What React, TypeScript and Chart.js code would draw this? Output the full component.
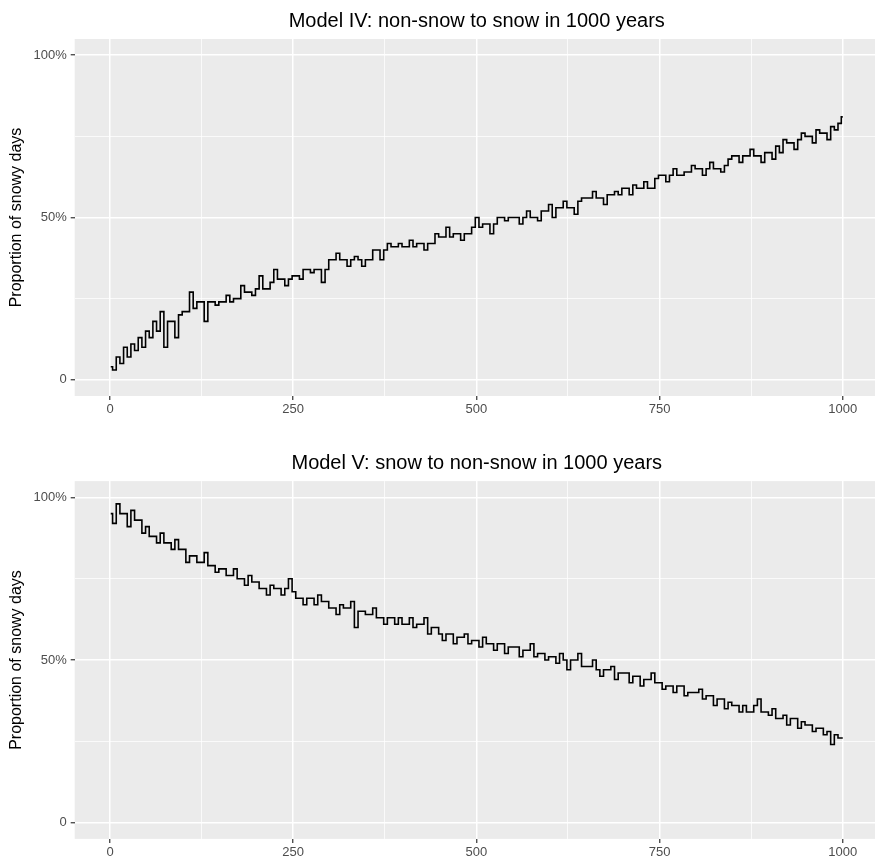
import React, { useEffect, useRef } from "react";
import { Chart, registerables } from "chart.js";

Chart.register(...registerables);

const YEAR_STEP = 5;
const LAST_YEAR = 1000;

const X_TICKS = [0, 125, 250, 375, 500, 625, 750, 875, 1000];
const X_LABELS = ["0", "", "250", "", "500", "", "750", "", "1000"];
const Y_TICKS = [0, 0.25, 0.5, 0.75, 1];
const Y_LABELS = ["0", "", "50%", "", "100%"];

const TITLE_IV = "Model IV: non-snow to snow in 1000 years";
const TITLE_V = "Model V: snow to non-snow in 1000 years";
const Y_TITLE = "Proportion of snowy days";

// Proportion of snowy days, sampled every 5 years (1, 6, 11, ... 996) plus year 1000
const MODEL_IV = [
  0.04, 0.03, 0.07, 0.05, 0.10, 0.07, 0.11, 0.09, 0.13, 0.10,
  0.15, 0.13, 0.18, 0.15, 0.21, 0.10, 0.18, 0.18, 0.13, 0.20,
  0.21, 0.21, 0.27, 0.22, 0.24, 0.24, 0.18, 0.24, 0.24, 0.23,
  0.24, 0.24, 0.26, 0.24, 0.25, 0.25, 0.29, 0.27, 0.27, 0.26,
  0.28, 0.32, 0.28, 0.28, 0.30, 0.34, 0.31, 0.31, 0.29, 0.31,
  0.32, 0.32, 0.31, 0.34, 0.34, 0.33, 0.34, 0.34, 0.30, 0.34,
  0.37, 0.37, 0.39, 0.37, 0.37, 0.35, 0.37, 0.38, 0.37, 0.35,
  0.37, 0.37, 0.40, 0.40, 0.37, 0.40, 0.42, 0.41, 0.41, 0.42,
  0.41, 0.41, 0.43, 0.41, 0.42, 0.42, 0.40, 0.42, 0.42, 0.45,
  0.44, 0.44, 0.47, 0.44, 0.45, 0.45, 0.43, 0.45, 0.45, 0.47,
  0.50, 0.47, 0.48, 0.48, 0.45, 0.48, 0.50, 0.50, 0.49, 0.50,
  0.50, 0.50, 0.48, 0.50, 0.52, 0.50, 0.50, 0.49, 0.52, 0.52,
  0.54, 0.50, 0.53, 0.53, 0.55, 0.53, 0.53, 0.51, 0.55, 0.56,
  0.56, 0.56, 0.58, 0.56, 0.56, 0.54, 0.57, 0.57, 0.58, 0.57,
  0.59, 0.59, 0.57, 0.60, 0.59, 0.59, 0.61, 0.59, 0.59, 0.62,
  0.63, 0.63, 0.61, 0.63, 0.65, 0.63, 0.63, 0.64, 0.64, 0.66,
  0.65, 0.65, 0.63, 0.65, 0.67, 0.65, 0.65, 0.64, 0.66, 0.68,
  0.69, 0.69, 0.67, 0.69, 0.69, 0.71, 0.69, 0.69, 0.67, 0.70,
  0.70, 0.68, 0.72, 0.70, 0.74, 0.73, 0.73, 0.71, 0.74, 0.76,
  0.75, 0.75, 0.73, 0.77, 0.76, 0.76, 0.74, 0.78, 0.77, 0.79,
  0.81,
];

const MODEL_V = [
  0.95, 0.92, 0.98, 0.95, 0.95, 0.91, 0.96, 0.93, 0.93, 0.89,
  0.91, 0.88, 0.88, 0.86, 0.89, 0.86, 0.86, 0.84, 0.87, 0.84,
  0.84, 0.80, 0.82, 0.82, 0.80, 0.80, 0.83, 0.79, 0.79, 0.77,
  0.78, 0.78, 0.76, 0.76, 0.78, 0.75, 0.75, 0.73, 0.76, 0.74,
  0.74, 0.72, 0.72, 0.70, 0.73, 0.72, 0.72, 0.70, 0.72, 0.75,
  0.71, 0.69, 0.69, 0.67, 0.69, 0.69, 0.67, 0.70, 0.68, 0.68,
  0.66, 0.66, 0.64, 0.67, 0.66, 0.66, 0.68, 0.60, 0.65, 0.65,
  0.64, 0.64, 0.66, 0.63, 0.63, 0.61, 0.63, 0.63, 0.61, 0.63,
  0.61, 0.61, 0.63, 0.60, 0.61, 0.61, 0.63, 0.58, 0.60, 0.60,
  0.58, 0.56, 0.58, 0.58, 0.55, 0.57, 0.57, 0.58, 0.55, 0.56,
  0.56, 0.54, 0.57, 0.55, 0.55, 0.53, 0.55, 0.55, 0.52, 0.54,
  0.54, 0.54, 0.51, 0.53, 0.53, 0.55, 0.51, 0.52, 0.52, 0.50,
  0.51, 0.51, 0.49, 0.52, 0.50, 0.47, 0.50, 0.50, 0.52, 0.48,
  0.48, 0.48, 0.50, 0.47, 0.45, 0.47, 0.47, 0.48, 0.44, 0.46,
  0.46, 0.46, 0.43, 0.45, 0.45, 0.42, 0.44, 0.44, 0.46, 0.43,
  0.43, 0.41, 0.42, 0.42, 0.40, 0.42, 0.42, 0.39, 0.40, 0.40,
  0.40, 0.41, 0.38, 0.39, 0.39, 0.36, 0.38, 0.38, 0.35, 0.37,
  0.36, 0.36, 0.34, 0.36, 0.34, 0.34, 0.36, 0.38, 0.34, 0.34,
  0.33, 0.35, 0.32, 0.32, 0.33, 0.30, 0.32, 0.32, 0.29, 0.31,
  0.30, 0.30, 0.28, 0.29, 0.29, 0.27, 0.28, 0.24, 0.27, 0.26,
  0.26,
];

const FONT = '"Liberation Sans", Arial, Helvetica, sans-serif';
const WIDTH = 875;

type PanelProps = {
  values: number[];
  title: string;
  top: number;
  height: number;
  plotTop: number;
  plotBottom: number;
};

function Panel({ values, title, top, height, plotTop, plotBottom }: PanelProps) {
  const ref = useRef<HTMLCanvasElement | null>(null);

  useEffect(() => {
    if (!ref.current) return;
    const points = values.map((v, i) => ({ x: Math.min(1 + YEAR_STEP * i, LAST_YEAR), y: v }));

    const deco = {
      id: "deco",
      beforeDraw(chart: any) {
        const { ctx, chartArea } = chart;
        ctx.save();
        ctx.fillStyle = "#EBEBEB";
        ctx.fillRect(chartArea.left, chartArea.top, chartArea.right - chartArea.left, chartArea.bottom - chartArea.top);
        ctx.restore();
      },
      afterDraw(chart: any) {
        const { ctx, chartArea } = chart;
        ctx.save();
        ctx.fillStyle = "#000000";
        ctx.font = `20px ${FONT}`;
        ctx.textAlign = "center";
        ctx.textBaseline = "alphabetic";
        const cx = chart.scales.x.getPixelForValue(500.5);
        ctx.fillText(title, cx, chartArea.top - 12.5);
        ctx.translate(17, (chartArea.top + chartArea.bottom) / 2);
        ctx.rotate(-Math.PI / 2);
        ctx.font = `16px ${FONT}`;
        ctx.textBaseline = "middle";
        ctx.fillText(Y_TITLE, 0, 0);
        ctx.restore();
      },
    };

    const chart = new Chart(ref.current, {
      type: "line",
      data: {
        datasets: [
          {
            data: points,
            borderColor: "#000000",
            borderWidth: 1.6,
            pointRadius: 0,
            stepped: "middle",
            fill: false,
          },
        ],
      },
      options: {
        responsive: false,
        animation: false,
        events: [],
        layout: { padding: { top: plotTop, left: 0, right: 0, bottom: 0 } },
        plugins: {
          legend: { display: false },
          tooltip: { enabled: false },
          title: { display: false },
        },
        scales: {
          x: {
            type: "linear",
            min: -48.2,
            max: 1044,
            afterFit: (s: any) => {
              s.height = height - plotBottom;
            },
            afterBuildTicks: (s: any) => {
              s.ticks = X_TICKS.map((v) => ({ value: v }));
            },
            ticks: {
              callback: (_v: any, i: number) => X_LABELS[i],
              color: "#4D4D4D",
              font: { family: FONT, size: 13 },
              padding: 2,
              maxRotation: 0,
              autoSkip: false,
            },
            grid: {
              color: "#FFFFFF",
              lineWidth: (c: any) => (X_LABELS[c.index] ? 1.5 : 0.75),
              tickColor: (c: any) => (X_LABELS[c.index] ? "#333333" : "rgba(0,0,0,0)"),
              tickLength: 4,
              tickWidth: 1.2,
              drawTicks: true,
            },
            border: { display: false },
          },
          y: {
            type: "linear",
            min: -0.05,
            max: 1.05,
            afterFit: (s: any) => {
              s.width = 74.7;
            },
            afterBuildTicks: (s: any) => {
              s.ticks = Y_TICKS.map((v) => ({ value: v }));
            },
            ticks: {
              callback: (_v: any, i: number) => Y_LABELS[i],
              color: "#4D4D4D",
              font: { family: FONT, size: 13 },
              padding: 4,
              autoSkip: false,
            },
            grid: {
              color: "#FFFFFF",
              lineWidth: (c: any) => (Y_LABELS[c.index] ? 1.5 : 0.75),
              tickColor: (c: any) => (Y_LABELS[c.index] ? "#333333" : "rgba(0,0,0,0)"),
              tickLength: 4,
              tickWidth: 1.2,
              drawTicks: true,
            },
            border: { display: false },
          },
        },
      },
      plugins: [deco],
    } as any);

    return () => chart.destroy();
  }, [values, title, height, plotTop, plotBottom]);

  return (
    <canvas
      ref={ref}
      width={WIDTH}
      height={height}
      style={{ position: "absolute", left: 0, top, width: WIDTH, height, display: "block" }}
    />
  );
}

export default function App() {
  return (
    <div
      style={{
        position: "absolute",
        left: 0,
        top: 0,
        width: WIDTH,
        height: 863,
        overflow: "hidden",
        background: "#FFFFFF",
      }}
    >
      <Panel values={MODEL_IV} title={TITLE_IV} top={0} height={440} plotTop={39} plotBottom={396} />
      <Panel values={MODEL_V} title={TITLE_V} top={440} height={423} plotTop={41.1} plotBottom={398.9} />
    </div>
  );
}
